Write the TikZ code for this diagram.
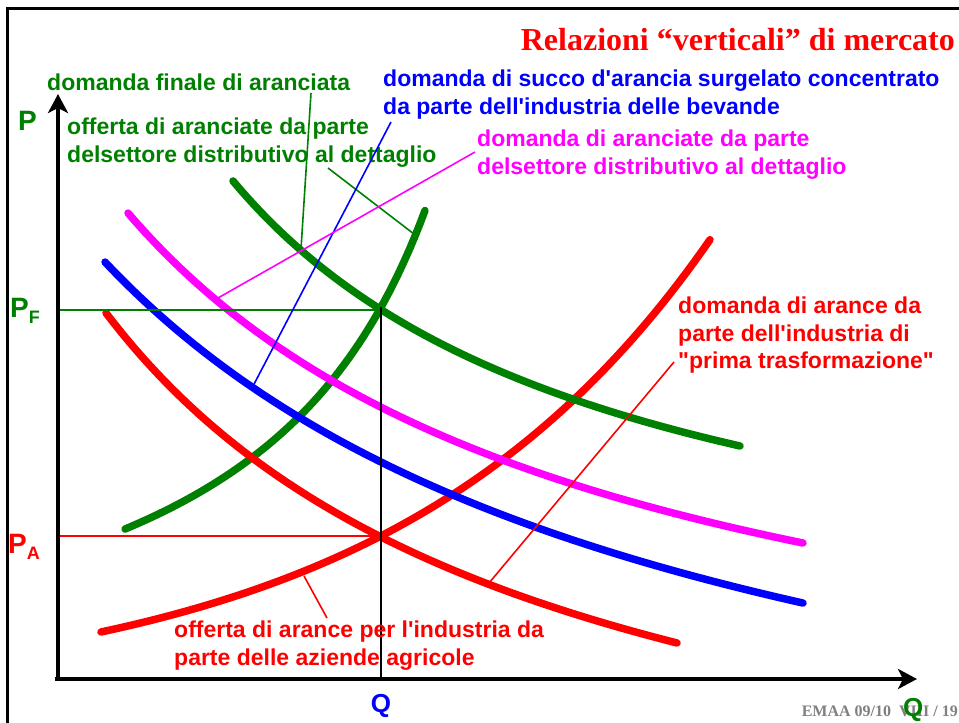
\documentclass[tikz,border=0pt]{standalone}
\usepackage{fontspec}
\setmainfont{Liberation Sans}
\newfontfamily\lblfont{Liberation Sans}
\newfontfamily\titlefont{Liberation Serif}
\usetikzlibrary{arrows.meta}
\definecolor{dgreen}{RGB}{0,128,0}
\definecolor{mag}{RGB}{255,0,255}
\definecolor{footgray}{RGB}{128,128,128}
\begin{document}
\begin{tikzpicture}[x=1pt,y=-1pt,
  lbl/.style={font=\lblfont\fontsize{23}{27.5}\selectfont\bfseries, inner sep=0pt, align=left},
  axlbl/.style={font=\lblfont\fontsize{28}{28}\selectfont\bfseries, inner sep=0pt},
  curve/.style={line width=7.5pt, line cap=round, line join=round},
  leader/.style={line width=1.6pt},
  guide/.style={line width=2pt},
  axis/.style={line width=4pt, -{Stealth[length=19pt,width=20pt,inset=5pt]}}
]
\useasboundingbox (0,0) rectangle (959,723);
\fill[white] (0,0) rectangle (959,723);
% frame
\draw[line width=3pt] (7,723) -- (7,8) -- (959,8);

% title and footer
\node[font=\titlefont\bfseries\fontsize{32}{32}\selectfont, text=red, inner sep=0, anchor=base east] (title) at (955,50) {Relazioni “verticali” di mercato};
\node[font=\titlefont\bfseries\fontsize{16}{16}\selectfont, text=footgray, inner sep=0, anchor=base east] (foot) at (958,716) {EMAA 09/10\ \ VIII / 19};

% curves
\draw[curve, dgreen] plot[domain=125:425, samples=60] (\x, {736.1 - 1024.92/((620-\x)/100)});
\draw[curve, red] plot[domain=101:710, samples=80] (\x, {700.6 - 68.6*exp(0.00313*(\x-101))});
\draw[curve, red] plot[domain=106:677, samples=80] (\x, {901.9 - 2638.4/((\x+342)/100)});
\draw[curve, blue] plot[domain=105:803, samples=80] (\x, {894.7 - 3777/((\x+492)/100)});
\draw[curve, mag] plot[domain=128:803, samples=80] (\x, {781.1 - 2767/((\x+359.1)/100)});
\draw[curve, dgreen] plot[domain=233:740, samples=80] (\x, {651.8 - 1853.7/((\x+160.7)/100)});

% key points
\coordinate (O) at (58,680);
\coordinate (Ox) at (55,679);
\coordinate (ytip) at (58,94);
\coordinate (xtip) at (917,679);
\coordinate (PFl) at (58,310);
\coordinate (PFr) at (381,310);
\coordinate (PAl) at (58,536);
\coordinate (PAr) at (381,536);
\coordinate (Qtop) at (381,307);
\coordinate (Qbot) at (381,679);

% guides
\draw[guide, dgreen] (PFl) -- (PFr);
\draw[guide, red] (PAl) -- (PAr);
\draw[guide, black] (Qtop) -- (Qbot);

% labels
\node[lbl, text=dgreen, anchor=base west] (dfin) at (47,90) {domanda finale di aranciata};
\node[lbl, text=dgreen, anchor=north west] (offd) at (67,118) {offerta di aranciate da parte\\delsettore distributivo al dettaglio};
\node[lbl, text=blue, anchor=north west] (dsucco) at (383,70) {domanda di succo d'arancia surgelato concentrato\\da parte dell'industria delle bevande};
\node[lbl, text=mag, anchor=north west] (ddett) at (477,130) {domanda di aranciate da parte\\delsettore distributivo al dettaglio};
\node[lbl, text=red, anchor=north west] (darance) at (678,297) {domanda di arance da\\parte dell'industria di\\"prima trasformazione"};
\node[lbl, text=red, anchor=north west] (oarance) at (174,621) {offerta di arance per l'industria da\\parte delle aziende agricole};

% leader lines
\coordinate (l1a) at (311,93);   \coordinate (l1b) at (301,249);
\coordinate (l2a) at (328,168);  \coordinate (l2b) at (414,234);
\coordinate (l3a) at (391,122);  \coordinate (l3b) at (252,388);
\coordinate (l4a) at (475,152);  \coordinate (l4b) at (218,298);
\coordinate (l5a) at (674,362);  \coordinate (l5b) at (489,583);
\coordinate (l6a) at (327,618);  \coordinate (l6b) at (304,576);
\draw[leader, dgreen] (l1a) -- (l1b);
\draw[leader, dgreen] (l2a) -- (l2b);
\draw[leader, blue] (l3a) -- (l3b);
\draw[leader, mag] (l4a) -- (l4b);
\draw[leader, red] (l5a) -- (l5b);
\draw[leader, red] (l6a) -- (l6b);

% axes
\draw[axis] (O) -- (ytip);
\draw[axis] (Ox) -- (xtip);

% axis labels
\node[axlbl, text=dgreen, anchor=base west] (P) at (18,130) {P};
\node[axlbl, text=dgreen, anchor=base west] (PF) at (10,317) {P{\fontsize{18}{18}\selectfont\raisebox{-6pt}{F}}};
\node[axlbl, text=red, anchor=base west] (PA) at (8,553) {P{\fontsize{18}{18}\selectfont\raisebox{-6pt}{A}}};
\node[font=\lblfont\fontsize{26}{26}\selectfont\bfseries, inner sep=0, text=blue, anchor=base] (Qb) at (381,712) {Q};
\node[font=\lblfont\fontsize{26}{26}\selectfont\bfseries, inner sep=0, text=dgreen, anchor=base west] (Qg) at (903,716) {Q};
\end{tikzpicture}
\end{document}
